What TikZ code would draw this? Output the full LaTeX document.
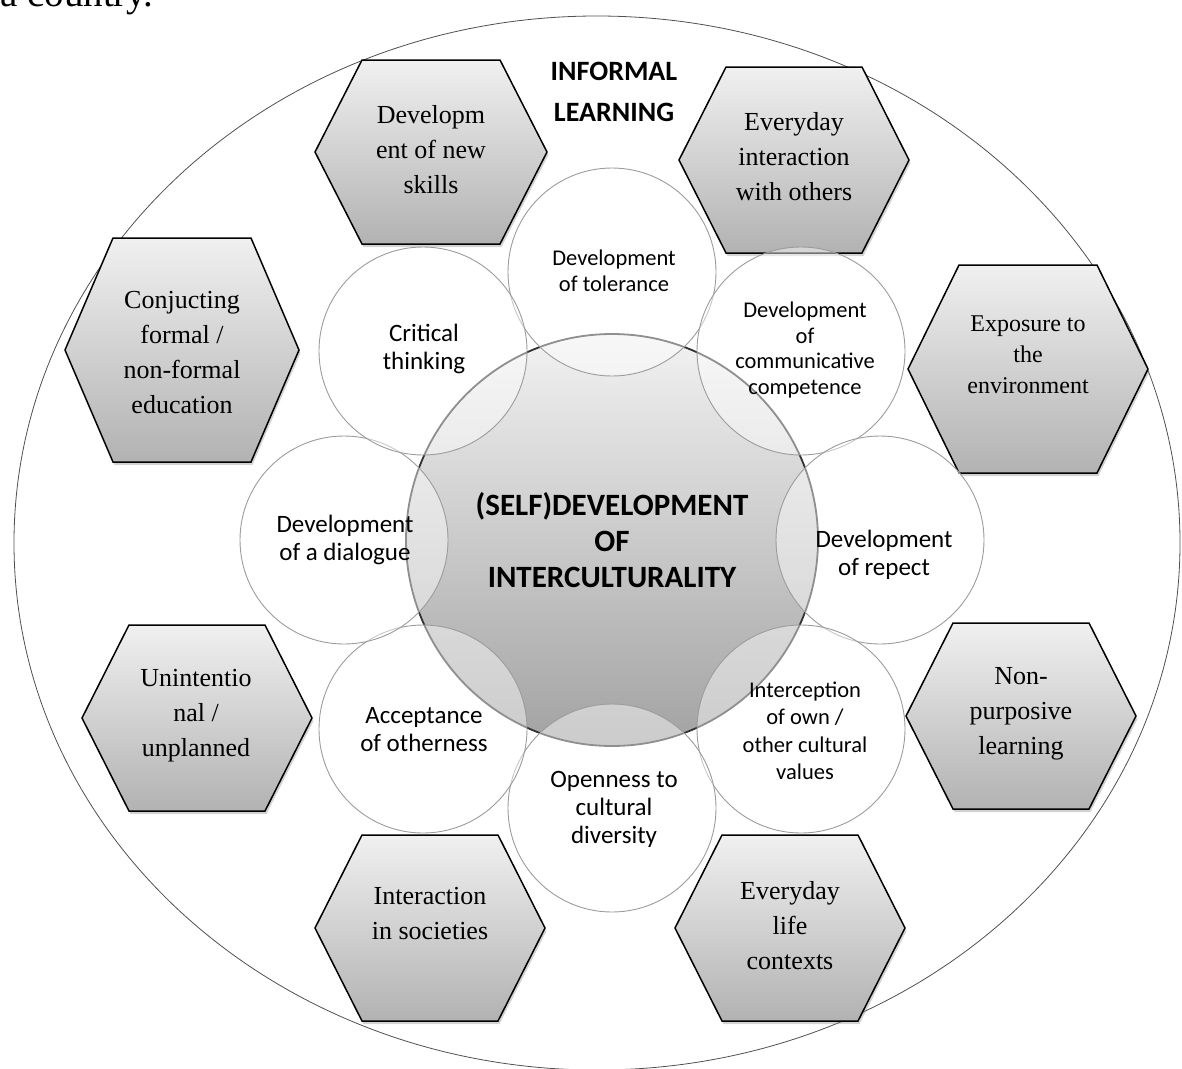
\documentclass[tikz,border=0pt]{standalone}
\usepackage{fontspec}
\setmainfont{Liberation Serif}
\newfontfamily\cbr{Carlito}
\usetikzlibrary{shadows}
\definecolor{hextop}{HTML}{F0F0F0}
\definecolor{hexbot}{HTML}{B2B2B2}
\definecolor{ctop}{HTML}{F2F2F2}
\definecolor{cbot}{HTML}{A2A2A2}
\definecolor{ringline}{HTML}{9C9C9C}
\definecolor{cline}{HTML}{333333}
\definecolor{outerline}{HTML}{505050}
\tikzset{
  hexa/.style={draw=black, line width=1.5pt, line join=miter, top color=hextop, bottom color=hexbot,
    drop shadow={shadow xshift=1.5pt, shadow yshift=-3pt, opacity=0.35}},
  hextext/.style={align=center, inner sep=0pt, font=\fontsize{26}{35}\selectfont},
  hexsmall/.style={align=center, inner sep=0pt, font=\fontsize{24}{31}\selectfont},
  ring/.style={circle, draw=ringline, line width=0.9pt, fill=white, fill opacity=0.45, minimum size=208pt, inner sep=0pt},
  ringtext/.style={align=center, inner sep=0pt, font=\cbr\fontsize{25}{28}\selectfont},
  ringsmall/.style={align=center, inner sep=0pt, font=\cbr\fontsize{22.5}{25.5}\selectfont},
  core/.style={circle, draw=cline, line width=1.8pt, top color=ctop, bottom color=cbot, minimum size=412pt,
    inner sep=0pt, align=center, font=\cbr\bfseries\fontsize{31}{36}\selectfont},
  outer/.style={draw=outerline, line width=0.8pt},
  title/.style={align=center, inner sep=0pt, font=\cbr\bfseries\fontsize{28}{41}\selectfont},
}
\newcommand\hexpath[5]{% cx, cy, hw, he, hh
  \path[hexa] (#1-#3,#2) -- (#1-#4,#2-#5) -- (#1+#4,#2-#5) -- (#1+#3,#2) -- (#1+#4,#2+#5) -- (#1-#4,#2+#5) -- cycle;}
\begin{document}
\begin{tikzpicture}[x=1pt,y=-1pt]
\useasboundingbox (0,0) rectangle (1182,1068);
\node[anchor=base west, inner sep=0pt, font=\fontsize{39}{45}\selectfont] (cut) at (0,6) {a country.};
\draw[outer] (597,543) ellipse [x radius=583, y radius=527];
% hexagons
\hexpath{431}{152}{116}{69}{92}
\hexpath{794}{160}{115}{68}{93}
\hexpath{182}{350}{117}{69}{112}
\hexpath{1028}{369}{120}{69}{104}
\hexpath{197}{718}{115}{68}{93}
\hexpath{1021}{716}{115}{68}{93}
\hexpath{430}{928}{115}{68}{93}
\hexpath{790}{928}{115}{68}{93}
\node[hextext] (h1) at (431,150) {Developm\\ent of new\\skills};
\node[hextext] (h2) at (794,157) {Everyday\\interaction\\with others};
\node[hextext] (h3) at (182,353) {Conjucting\\formal /\\non-formal\\education};
\node[hexsmall] (h4) at (1028,355) {Exposure to\\the\\environment};
\node[hextext] (h5) at (196,716) {Unintentio\\nal /\\unplanned};
\node[hextext] (h6) at (1021,714) {Non-\\purposive\\learning};
\node[hextext] (h7) at (430,914) {Interaction\\in societies};
\node[hextext] (h8) at (790,926) {Everyday\\life\\contexts};
\node[title] (inf) at (614,92) {INFORMAL\\LEARNING};
% core
\node[core] (core) at (612,540) {(SELF)DEVELOPMENT\\OF\\INTERCULTURALITY};
% ring circles
\node[ring] (c1) at (612,272) {};
\node[ring] (c2) at (801,351) {};
\node[ring] (c3) at (880,540) {};
\node[ring] (c4) at (801,729) {};
\node[ring] (c5) at (612,808) {};
\node[ring] (c6) at (423,729) {};
\node[ring] (c7) at (344,540) {};
\node[ring] (c8) at (423,351) {};
\node[ringsmall] (t1) at (614,271) {Development\\of tolerance};
\node[ringsmall] (t2) at (805,350) {Development\\of\\communicative\\competence};
\node[ringtext] (t3) at (884,555) {Development\\of repect};
\node[ringsmall, font=\cbr\fontsize{22.5}{27.5}\selectfont] (t4) at (805,731) {Interception\\of own /\\other cultural\\values};
\node[ringtext] (t5) at (614,809) {Openness to\\cultural\\diversity};
\node[ringtext] (t6) at (424,730) {Acceptance\\of otherness};
\node[ringtext] (t7) at (345,540) {Development\\of a dialogue};
\node[ringtext] (t8) at (424,349) {Critical\\thinking};
\end{tikzpicture}
\end{document}
